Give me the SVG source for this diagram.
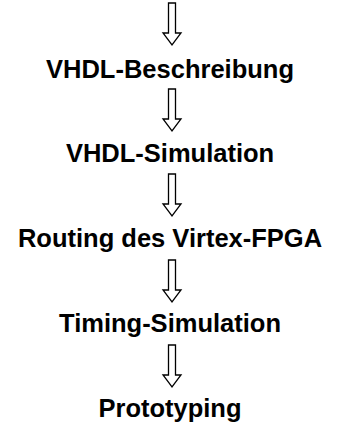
<svg xmlns="http://www.w3.org/2000/svg" width="341" height="423" viewBox="0 0 341 423">
<style>
.t{font-family:"Liberation Sans",Arial,sans-serif;font-weight:bold;font-size:25.5px;fill:#000;text-anchor:middle}
.a{fill:#fff;stroke:#000;stroke-width:1.3;stroke-linejoin:miter}
</style>
<defs>
<path id="arr" class="a" d="M-3.5,0 H3.5 V30 H9 L0,42 L-9,30 H-3.5 Z"/>
</defs>
<g id="connectors">
<use href="#arr" x="172" y="3"/>
<use href="#arr" x="172" y="89"/>
<use href="#arr" x="172" y="174"/>
<use href="#arr" x="172" y="260"/>
<use href="#arr" x="172" y="345"/>
</g>
<g id="n1"><text class="t" x="170" y="78">VHDL-Beschreibung</text></g>
<g id="n2"><text class="t" x="170" y="162">VHDL-Simulation</text></g>
<g id="n3"><text class="t" x="170" y="247">Routing des Virtex-FPGA</text></g>
<g id="n4"><text class="t" x="170" y="332">Timing-Simulation</text></g>
<g id="n5"><text class="t" x="170" y="417">Prototyping</text></g>
</svg>
